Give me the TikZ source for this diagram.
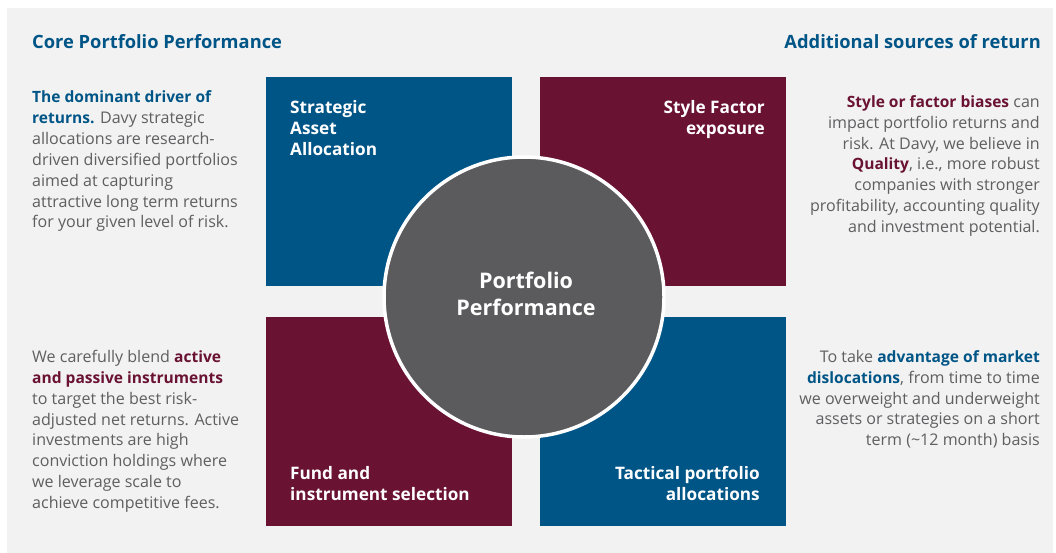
\documentclass[tikz,border=0pt]{standalone}
\usepackage{fontspec}
\setmainfont{Open Sans}
\definecolor{navy}{HTML}{005587}
\definecolor{wine}{HTML}{6A1232}
\definecolor{panel}{HTML}{F2F2F2}
\definecolor{bodygrey}{HTML}{5F5F61}
\definecolor{discgrey}{HTML}{5B5B5D}
\newcommand{\nb}[1]{{\fontsize{15.55}{20.85}\selectfont\textbf{\textcolor{navy}{#1}}}}
\newcommand{\wb}[1]{{\fontsize{15.55}{20.85}\selectfont\textbf{\textcolor{wine}{#1}}}}
\tikzset{
  x=1pt,y=-1pt,
  quad/.style={draw=none,inner sep=0pt,minimum width=246pt,minimum height=209pt,anchor=north west},
  head/.style={text=navy,font=\fontsize{18.3}{21}\selectfont\bfseries,inner sep=0pt},
  body/.style={text=bodygrey,font=\fontsize{16.05}{20.85}\selectfont,inner sep=0pt},
  quadlabel/.style={text=white,font=\fontsize{17.2}{21}\selectfont\bfseries,inner sep=0pt},
}
\begin{document}
\begin{tikzpicture}
\useasboundingbox (0,0) rectangle (1056,553);
\fill[white] (0,0) rectangle (1056,553);
\fill[panel] (7,8) rectangle (1053,553);
\node[quad,fill=navy] (q1) at (266,77) {};
\node[quad,fill=wine] (q2) at (540,77) {};
\node[quad,fill=wine] (q3) at (266,317) {};
\node[quad,fill=navy] (q4) at (540,317) {};
\node[circle,fill=discgrey,draw=white,line width=3.5pt,minimum size=280pt,inner sep=0pt] (disc) at (524,297) {};
\node[text=white,font=\fontsize{21.5}{27}\selectfont\bfseries,align=center,inner sep=0pt] (disclabel) at (526,294) {Portfolio\\Performance};
\node[head,anchor=base west] (hl) at (32,49) {Core Portfolio Performance};
\node[head,anchor=base east] (hr) at (1041,49) {Additional sources of return};
\node[quadlabel,anchor=north west,align=left] (l1) at (290,100) {Strategic\\Asset\\Allocation};
\node[quadlabel,anchor=north east,align=right] (l2) at (765,100) {Style Factor\\exposure};
\node[quadlabel,anchor=north west,align=left] (l3) at (290,466.5) {Fund and\\instrument selection};
\node[quadlabel,anchor=north east,align=right] (l4) at (760,466.5) {Tactical portfolio\\allocations};
\node[body,anchor=north west,align=left] (t1) at (32,90.8) {\nb{The dominant driver of}\\\nb{returns.} Davy strategic\\allocations are research-\\driven diversified portfolios\\aimed at capturing\\attractive long term returns\\for your given level of risk.};
\node[body,anchor=north east,align=right] (t2) at (1040,95.3) {\wb{Style or factor biases} can\\impact portfolio returns and\\risk. At Davy, we believe in\\\wb{Quality}, i.e., more robust\\companies with stronger\\profitability, accounting quality\\and investment potential.};
\node[body,anchor=north west,align=left] (t3) at (32,350) {We carefully blend \wb{active}\\\wb{and passive instruments}\\to target the best risk-\\adjusted net returns. Active\\investments are high\\conviction holdings where\\we leverage scale to\\achieve competitive fees.};
\node[body,anchor=north east,align=right] (t4) at (1040,350) {To take \nb{advantage of market}\\\nb{dislocations}, from time to time\\we overweight and underweight\\assets or strategies on a short\\term (\textasciitilde12 month) basis};
\end{tikzpicture}
\end{document}
